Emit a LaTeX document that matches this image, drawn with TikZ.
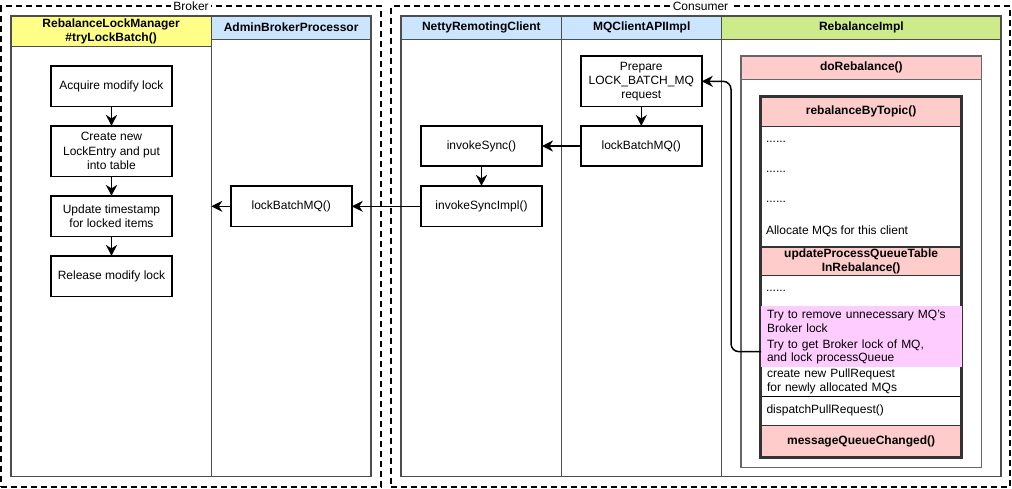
\documentclass[tikz,border=0pt]{standalone}
\usepackage{fontspec}
\setmainfont{Liberation Sans}
\usetikzlibrary{arrows.meta}
\definecolor{hyellow}{HTML}{FFFF88}
\definecolor{hblue}{HTML}{CCE5FF}
\definecolor{hgreen}{HTML}{CDEB8B}
\definecolor{hpink}{HTML}{FFCCCC}
\definecolor{hmag}{HTML}{FFCCFF}
\definecolor{lanegray}{HTML}{4D4D4D}
\definecolor{boxgray}{HTML}{666666}
\definecolor{darkgray}{HTML}{333333}
\begin{document}
\begin{tikzpicture}[x=1pt,y=-1pt,
  every node/.style={font=\fontsize{12}{14}\selectfont, outer sep=0pt, inner sep=0pt},
  dashbox/.style={draw=black, line width=2pt, dash pattern=on 6pt off 4pt, anchor=north west},
  tag/.style={fill=white, inner xsep=2pt, inner ysep=1pt},
  lane/.style={draw=lanegray, line width=1.5pt, anchor=north west},
  hdr/.style={draw=lanegray, line width=1.5pt, anchor=north west, font=\fontsize{12}{14}\selectfont\bfseries, align=center},
  proc/.style={draw=black, line width=1.5pt, fill=white, minimum width=121pt, minimum height=40.7pt, align=center},
  arr/.style={line width=1.5pt, -{Stealth[length=11pt,width=11pt,inset=3.5pt]}},
  item/.style={anchor=west, align=left},
  row/.style={anchor=north west, text width=189pt, inner xsep=6pt, align=left, font=\fontsize{12}{13.5}\selectfont},
]
\useasboundingbox (0,0) rectangle (1012,488);

% dashed containers
\node[dashbox, minimum width=380pt, minimum height=480.5pt] (broker) at (1,6) {};
\node[dashbox, minimum width=619pt, minimum height=480.5pt] (consumer) at (391,6) {};
\node[tag] (tbroker) at (broker.north) {Broker};
\node[tag] (tconsumer) at (consumer.north) {Consumer};

% Broker lanes
\node[lane, minimum width=200.3pt, minimum height=460.7pt] (lrlm) at (11,16) {};
\node[lane, minimum width=159.7pt, minimum height=460.7pt] (labp) at (211.3,16) {};
\node[hdr, fill=hyellow, minimum width=200.3pt, minimum height=30.7pt] (hrlm) at (11,16) {RebalanceLockManager\\\#tryLockBatch()};
\node[hdr, fill=hblue, minimum width=159.7pt, minimum height=23.3pt] (habp) at (211.3,16) {AdminBrokerProcessor};

% Consumer lanes
\node[lane, minimum width=160.7pt, minimum height=460.7pt] (lnrc) at (401,16) {};
\node[lane, minimum width=160pt, minimum height=460.7pt] (lmqc) at (561.7,16) {};
\node[lane, minimum width=279.3pt, minimum height=460.7pt] (lrbi) at (721.7,16) {};
\node[hdr, fill=hblue, minimum width=160.7pt, minimum height=23.5pt] (hnrc) at (401,16) {NettyRemotingClient};
\node[hdr, fill=hblue, minimum width=160pt, minimum height=23.5pt] (hmqc) at (561.7,16) {MQClientAPIImpl};
\node[hdr, fill=hgreen, minimum width=279.3pt, minimum height=23.5pt] (hrbi) at (721.7,16) {RebalanceImpl};

% Broker process boxes
\node[proc] (acq) at (111.5,86.3) {Acquire modify lock};
\node[proc, font=\fontsize{12}{14.5}\selectfont, minimum height=50.7pt] (create) at (111.5,151.3) {Create new\\LockEntry and put\\into table};
\node[proc] (upd) at (111.5,216.3) {Update timestamp\\for locked items};
\node[proc] (rel) at (111.5,276.3) {Release modify lock};
\node[proc] (blmq) at (291.3,206.3) {lockBatchMQ()};

% Consumer process boxes
\node[proc, minimum height=40pt] (isync) at (481.5,146) {invokeSync()};
\node[proc] (isimpl) at (481.5,206.3) {invokeSyncImpl()};
\node[proc, minimum height=50.7pt] (prep) at (641.3,81.3) {Prepare\\LOCK\_BATCH\_MQ\\request};
\node[proc, minimum height=40pt] (clmq) at (641.3,146) {lockBatchMQ()};

% RebalanceImpl content
\node[draw=boxgray, line width=1.5pt, fill=white, anchor=north west, minimum width=240.7pt, minimum height=411.3pt] (dorb) at (741,56) {};
\node[hdr, draw=boxgray, fill=hpink, minimum width=240.7pt, minimum height=23.3pt] (hdorb) at (741,56) {doRebalance()};

\node[fill=white, anchor=north west, minimum width=201.2pt, minimum height=361.3pt] (rbt) at (760.5,96) {};
\node[hdr, draw=darkgray, fill=hpink, minimum width=201.2pt, minimum height=30.7pt] (hrbt) at (760.5,96) {rebalanceByTopic()};
\node[draw=darkgray, line width=1pt, anchor=north west, minimum width=201.2pt, minimum height=119.3pt] (brbt) at (760.5,126.7) {};
\node[item] (d1) at (766,141.7) {......};
\node[item] (d2) at (766,171.7) {......};
\node[item] (d3) at (766,201.7) {......};
\node[item] (alloc) at (766,231.2) {Allocate MQs for this client};

\node[hdr, draw=darkgray, line width=1pt, fill=hpink, minimum width=201.2pt, minimum height=28.7pt] (hupq) at (760.5,247) {updateProcessQueueTable\\InRebalance()};
\node[item] (d4) at (766,291) {......};
\node[row, minimum height=29.3pt] (create2) at (761,366.7) {create new PullRequest\\for newly allocated MQs};
\node[row, draw=black, line width=1pt, minimum height=29.7pt] (disp) at (760.5,396) {dispatchPullRequest()};
\node[hdr, draw=darkgray, line width=1pt, fill=hpink, minimum width=201.2pt, minimum height=31.6pt] (mqc) at (760.5,425.7) {messageQueueChanged()};
\draw[draw=darkgray, line width=3pt] (rbt.north west) rectangle (rbt.south east);
\node[row, fill=hmag, minimum height=30.7pt] (tryrm) at (761,306) {Try to remove unnecessary MQ's\\Broker lock};
\node[row, fill=hmag, minimum height=30pt] (tryget) at (761,336.7) {Try to get Broker lock of MQ,\\and lock processQueue};

% connectors
\draw[arr] (acq) -- (create);
\draw[arr] (create) -- (upd);
\draw[arr] (upd) -- (rel);
\draw[arr] (blmq.west) -- (blmq.west -| lrlm.east);
\draw[arr] (isimpl.west) -- (blmq.east);
\draw[arr] (isync) -- (isimpl);
\draw[arr] (clmq.west) -- (isync.east);
\draw[arr] (prep) -- (clmq);
\draw[arr, rounded corners=8pt] (tryget.west) -- ++(-30,0) |- (prep.east);
\end{tikzpicture}
\end{document}
